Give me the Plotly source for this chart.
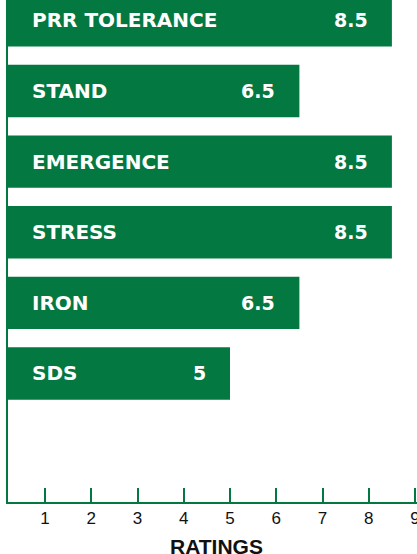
import plotly.graph_objects as go

categories = ["PRR TOLERANCE", "STAND", "EMERGENCE", "STRESS", "IRON", "SDS"]
ratings = [8.5, 6.5, 8.5, 8.5, 6.5, 5]
tick_values = [1, 2, 3, 4, 5, 6, 7, 8, 9]
axis_title = "RATINGS"

GREEN = "#037841"

fig = go.Figure()
fig.add_trace(go.Bar(
    x=ratings,
    y=categories,
    orientation="h",
    marker=dict(color=GREEN, line=dict(width=0)),
    width=0.742,
    hoverinfo="x+y",
))

annotations = []
for cat, val in zip(categories, ratings):
    annotations.append(dict(
        x=0, xref="paper", y=cat, yref="y",
        text="<b>%s</b>" % cat, showarrow=False,
        xanchor="left", yanchor="middle", xshift=22,
        font=dict(family="DejaVu Sans", size=20, color="white"),
    ))
    annotations.append(dict(
        x=val, xref="x", y=cat, yref="y",
        text="<b>%g</b>" % val, showarrow=False,
        xanchor="right", yanchor="middle", xshift=-22,
        font=dict(family="DejaVu Sans", size=19, color="white"),
    ))

annotations.append(dict(
    x=4.7, xref="x", y=0, yref="paper",
    text="<b>%s</b>" % axis_title, showarrow=False,
    xanchor="center", yanchor="middle", yshift=-44,
    font=dict(family="Liberation Sans", size=21, color="#111111"),
))

fig.update_layout(
    width=440, height=554,
    margin=dict(l=8, r=0, t=0, b=52),
    paper_bgcolor="white", plot_bgcolor="white",
    showlegend=False,
    annotations=annotations,
    xaxis=dict(
        range=[0.2, 9.54],
        tickvals=tick_values,
        automargin=False,
        ticks="inside", ticklen=14, tickwidth=2, tickcolor=GREEN,
        showline=True, linecolor=GREEN, linewidth=2,
        showgrid=False, zeroline=False,
        tickfont=dict(family="Liberation Sans", size=17, color="#111111"),
    ),
    yaxis=dict(
        type="category",
        categoryorder="array", categoryarray=categories,
        range=[6.82, -0.289],
        automargin=False,
        showticklabels=False, ticks="",
        showline=True, linecolor=GREEN, linewidth=2,
        showgrid=False, zeroline=False,
    ),
)

fig.write_html(
    "out.html",
    config={"displayModeBar": False},
    post_script="document.body.style.margin='0';document.body.style.overflow='hidden';",
)
